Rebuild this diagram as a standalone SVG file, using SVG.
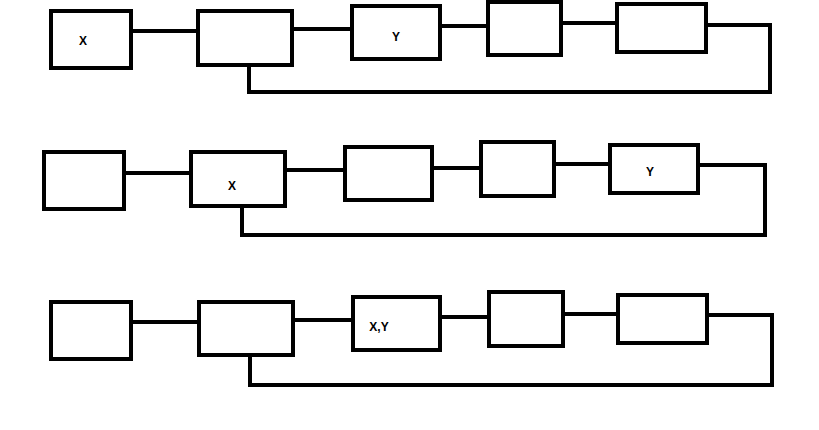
<svg xmlns="http://www.w3.org/2000/svg" width="819" height="430" viewBox="0 0 819 430">
<style>
.b{fill:#fff;stroke:#000;stroke-width:4}
.c{fill:none;stroke:#000;stroke-width:4;stroke-linejoin:miter}
.t{font-family:"Liberation Sans",Arial,sans-serif;font-size:12px;font-weight:bold;fill:#000;text-anchor:middle}
</style>
<rect width="819" height="430" fill="#fff"/>
<g id="connectors">
<path class="c" d="M131 31H200M292 29H354M440 26H490M561 23H619M706 25H770V92H249V65"/>
<path class="c" d="M124 173H193M285 170H347M432 168H483M554 164H612M698 165H765V235H242V206"/>
<path class="c" d="M131 322H201M293 320H355M440 317H491M563 314H620M707 315H772V385H250V355"/>
</g>
<g id="r1a"><rect class="b" x="51" y="11" width="80" height="57"/><text class="t" x="83" y="45">X</text></g>
<g id="r1b"><rect class="b" x="198" y="11" width="94" height="54"/></g>
<g id="r1c"><rect class="b" x="352" y="6" width="88" height="53"/><text class="t" x="396" y="41">Y</text></g>
<g id="r1d"><rect class="b" x="488" y="2" width="73" height="53"/></g>
<g id="r1e"><rect class="b" x="617" y="4" width="89" height="48"/></g>
<g id="r2a"><rect class="b" x="44" y="152" width="80" height="57"/></g>
<g id="r2b"><rect class="b" x="191" y="152" width="94" height="54"/><text class="t" x="232" y="190">X</text></g>
<g id="r2c"><rect class="b" x="345" y="147" width="87" height="53"/></g>
<g id="r2d"><rect class="b" x="481" y="142" width="73" height="54"/></g>
<g id="r2e"><rect class="b" x="610" y="145" width="88" height="48"/><text class="t" x="650" y="176">Y</text></g>
<g id="r3a"><rect class="b" x="51" y="302" width="80" height="57"/></g>
<g id="r3b"><rect class="b" x="199" y="302" width="94" height="53"/></g>
<g id="r3c"><rect class="b" x="353" y="297" width="87" height="53"/><text class="t" x="379" y="331">X,Y</text></g>
<g id="r3d"><rect class="b" x="489" y="292" width="74" height="54"/></g>
<g id="r3e"><rect class="b" x="618" y="295" width="89" height="48"/></g>
</svg>
